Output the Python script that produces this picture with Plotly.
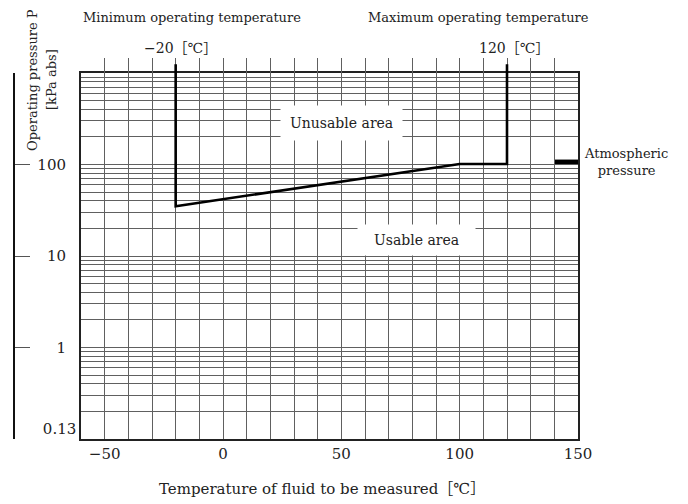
import plotly.graph_objects as go

# ---- data ----
x_tick_vals = list(range(-60, 151, 10))
x_tick_text = ["" if v % 50 else ("−%d" % -v if v < 0 else str(v)) for v in x_tick_vals]

y_grid_vals = [m * d for d in (0.1, 1, 10, 100) for m in range(1, 10)] + [1000]
y_label_vals = [1, 10, 100]
y_label_text = ["1", "10", "100"]
y_bottom_val = [0.13]
y_bottom_text = ["0.13"]

curve_temp = [-20, -20, 100, 120, 120]
curve_pressure = [1250, 35, 101.3, 101.3, 1250]

atm_temp = [140, 150]
atm_pressure = [107, 107]

FONT = "DejaVu Serif, Liberation Serif, Noto Sans CJK JP, serif"
GRID = "#606060"

W, H = 688, 504
ML, MR, MT, MB = 10, 10, 10, 10
PW, PH = W - ML - MR, H - MT - MB


def px(x):
    return (x - ML) / PW


def py(y):
    return (H - MB - y) / PH


plot_left, plot_right, plot_top, plot_bottom = 81, 578, 73, 439
decade = (plot_bottom - plot_top) / 4.0
ext_top = 58
ext_range_top = 3 + (plot_top - ext_top) / decade

fig = go.Figure()

fig.add_trace(go.Scatter(
    x=atm_temp, y=atm_pressure, mode="lines",
    line=dict(color="black", width=4.5), xaxis="x", yaxis="y",
    showlegend=False, hoverinfo="skip"))

fig.add_trace(go.Scatter(
    x=curve_temp, y=curve_pressure, mode="lines",
    line=dict(color="black", width=2.6), xaxis="x", yaxis="y4",
    showlegend=False, hoverinfo="skip"))

dom_y = [py(plot_bottom), py(plot_top)]

fig.update_layout(
    width=W, height=H,
    margin=dict(l=ML, r=MR, t=MT, b=MB, autoexpand=False),
    paper_bgcolor="white", plot_bgcolor="rgba(0,0,0,0)",
    font=dict(family=FONT, color="#222", size=14),
    showlegend=False,
    xaxis=dict(
        domain=[px(plot_left), px(plot_right)], range=[-60, 150],
        anchor="y", automargin=False,
        tickmode="array", tickvals=x_tick_vals, ticktext=x_tick_text,
        showgrid=True, gridcolor=GRID, gridwidth=1,
        showline=True, linecolor="#222", linewidth=1.5, mirror=True,
        ticks="", tickfont=dict(size=15, family=FONT, color="#222"),
        zeroline=False,
    ),
    yaxis=dict(
        type="log", domain=dom_y, range=[-1, 3], anchor="x", automargin=False,
        tickmode="array", tickvals=y_bottom_val, ticktext=y_bottom_text,
        showgrid=False, zeroline=False,
        minor=dict(tickmode="array", tickvals=y_grid_vals, showgrid=True,
                   gridcolor=GRID, gridwidth=1, ticks=""),
        showline=True, linecolor="#222", linewidth=1.5, mirror=True,
        ticks="", tickfont=dict(size=15, family=FONT, color="#222"),
    ),
    yaxis2=dict(
        type="log", range=[-1, 3], overlaying="y", anchor="free",
        position=px(14), side="right", automargin=False,
        showline=True, linecolor="#111", linewidth=1.5,
        ticks="outside", ticklen=15, tickwidth=1, tickcolor="#555",
        tickmode="array", tickvals=y_label_vals,
        showticklabels=False, showgrid=False, zeroline=False,
    ),
    yaxis3=dict(
        type="log", range=[-1, 3], overlaying="y", anchor="free",
        position=px(66), side="left", automargin=False,
        showline=False, ticks="",
        tickmode="array", tickvals=y_label_vals, ticktext=y_label_text,
        tickfont=dict(size=15, family=FONT, color="#222"),
        showgrid=False, zeroline=False,
    ),
    yaxis4=dict(
        type="log", domain=[py(plot_bottom), py(ext_top)],
        range=[-1, ext_range_top], anchor="x", visible=False,
        showgrid=False, zeroline=False, automargin=False,
    ),
)

fig.add_trace(go.Scatter(x=[None], y=[None], xaxis="x", yaxis="y2", showlegend=False))
fig.add_trace(go.Scatter(x=[None], y=[None], xaxis="x", yaxis="y3", showlegend=False))

ann = []


def add_text(text, x, y, size=13, **kw):
    d = dict(text=text, x=px(x), y=py(y), xref="paper", yref="paper",
             showarrow=False, xanchor="center", yanchor="middle",
             font=dict(size=size, family=FONT, color="#222"))
    d.update(kw)
    ann.append(d)


add_text("Minimum operating temperature", 192, 17, 13)
add_text("Maximum operating temperature", 478, 17, 13)
add_text("−20［℃］", 180, 48, 14)
add_text("120［℃］", 514, 48, 14)
add_text("Atmospheric<br>pressure", 626, 162, 13)
add_text("Operating pressure P", 33, 80, 13, textangle=-90)
add_text("[kPa abs]", 52, 80, 13, textangle=-90)
add_text("Temperature of fluid to be measured［℃］", 322, 489, 15)
add_text("Unusable area", 341, 123, 14, bgcolor="white", borderpad=9)
add_text("\u00a0\u00a0Usable area\u00a0\u00a0", 416, 240, 14, bgcolor="white", borderpad=7)

fig.update_layout(annotations=ann)

fig.write_html("out.html")
